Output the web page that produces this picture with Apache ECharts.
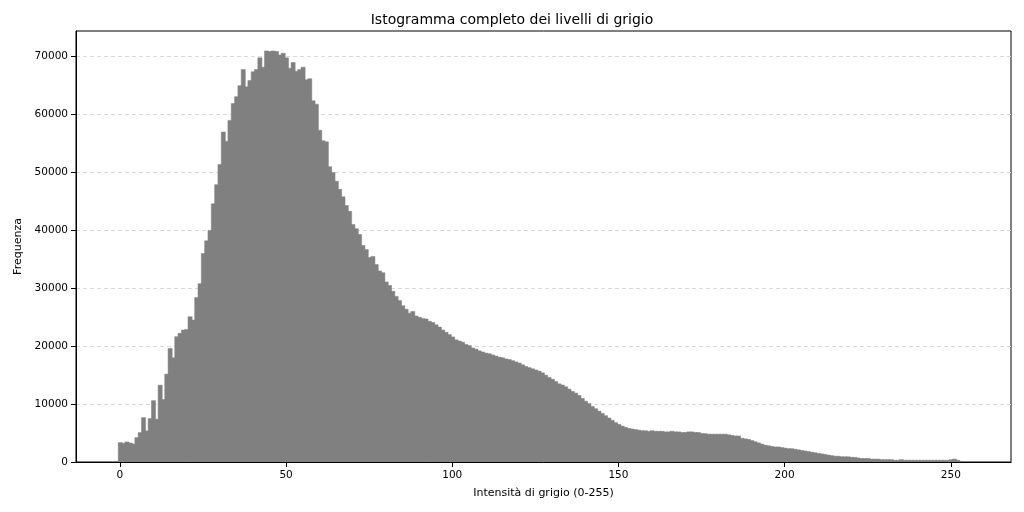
<!DOCTYPE html>
<html><head><meta charset="utf-8">
<script src="https://cdn.jsdelivr.net/npm/echarts@6/dist/echarts.min.js"></script>
<style>html,body{margin:0;background:#fff}#c{width:1024px;height:512px}</style>
</head><body><div id="c"></div>
<script>
const titleText = "Istogramma completo dei livelli di grigio";
const xLabel = "Intensità di grigio (0-255)";
const yLabel = "Frequenza";
const xTicks = [0, 50, 100, 150, 200, 250];
const yTicks = [0, 10000, 20000, 30000, 40000, 50000, 60000, 70000];
const freq = [
3350,3230,3460,3290,3120,4210,5080,7670,5370,7500,10600,7390,13270,10790,15180,19620,18000,21640,22220,22800,
22900,25100,24520,28400,30800,36000,38200,40000,44600,47900,51400,57000,55400,59000,61900,63100,65000,67800,64800,65900,
67400,67800,69800,68200,71000,70900,71000,70900,70300,70600,69800,68000,69000,67500,67800,68200,66000,66200,62400,61800,
57300,55500,55300,51000,50000,48500,47100,45800,44300,43300,41000,40300,39300,37400,36700,35300,35500,34100,33000,32700,
31100,30500,29500,28600,27900,27000,26400,25700,26000,25200,25000,24800,24700,24300,24100,23700,23300,22800,22400,22000,
21600,21100,20900,20700,20300,20100,19700,19500,19200,19000,18800,18700,18500,18300,18100,18000,17800,17700,17500,17300,
17100,16800,16500,16300,16100,15900,15700,15400,15000,14600,14300,13900,13500,13300,13000,12600,12200,11900,11500,11000,
10500,10100,9600,9200,8800,8400,8000,7600,7200,6800,6500,6200,6000,5800,5700,5600,5500,5400,5400,5300,
5400,5300,5300,5300,5200,5200,5300,5200,5200,5100,5100,5200,5200,5100,5100,4900,4900,4800,4800,4800,
4800,4800,4800,4700,4600,4500,4500,4100,4000,3900,3700,3500,3300,3100,2900,2800,2700,2600,2600,2500,
2400,2300,2300,2200,2100,2000,1900,1800,1700,1600,1500,1400,1300,1200,1100,1000,1000,900,900,900,
800,800,700,600,600,600,500,500,500,400,400,400,400,300,300,400,300,300,300,300,
300,300,300,300,300,300,300,300,300,300,400,500,300,100,50,50
];
const data = freq.map((v, i) => [i, v]);
const chart = echarts.init(document.getElementById('c'));
chart.setOption({
  animation: false,
  title: {text: titleText, left: 'center', top: 8, textStyle: {fontFamily: 'DejaVu Sans', fontSize: 14, fontWeight: 'normal', color: '#000'}},
  grid: {left: 76, right: 13, top: 31, bottom: 50, show: true, borderColor: '#000', borderWidth: 1},
  xAxis: {type: 'value', min: -13.2, max: 268.1, name: xLabel, nameLocation: 'middle', nameGap: 26,
    nameTextStyle: {fontFamily: 'DejaVu Sans', fontSize: 11, color: '#000'},
    axisLine: {onZero: false, lineStyle: {color: '#000'}}, splitLine: {show: false},
    axisTick: {show: true, customValues: xTicks, lineStyle: {color: '#000'}},
    axisLabel: {customValues: xTicks, fontFamily: 'DejaVu Sans', fontSize: 10.5, color: '#000'}},
  yAxis: {type: 'value', min: 0, max: 74440, name: yLabel, nameLocation: 'middle', nameGap: 52,
    nameTextStyle: {fontFamily: 'DejaVu Sans', fontSize: 11, color: '#000'},
    axisLine: {show: true, onZero: false, lineStyle: {color: '#000'}},
    axisTick: {show: true, customValues: yTicks, lineStyle: {color: '#000'}},
    axisLabel: {customValues: yTicks, fontFamily: 'DejaVu Sans', fontSize: 10.5, color: '#000', formatter: v => String(v)},
    splitLine: {show: true, lineStyle: {type: [4, 3], color: '#d9d9d9'}}},
  series: [{type: 'custom', data: data, clip: true, z: 3,
    encode: {x: 0, y: 1},
    renderItem: function (params, api) {
      const p0 = api.coord([api.value(0) - 0.5, api.value(1)]);
      const p1 = api.coord([api.value(0) + 0.5, 0]);
      return {type: 'rect', shape: {x: p0[0], y: p0[1], width: p1[0] - p0[0] + 0.8, height: p1[1] - p0[1]},
        style: {fill: '#808080', stroke: '#808080', lineWidth: 0.5}};
    }}]
});
</script></body></html>
